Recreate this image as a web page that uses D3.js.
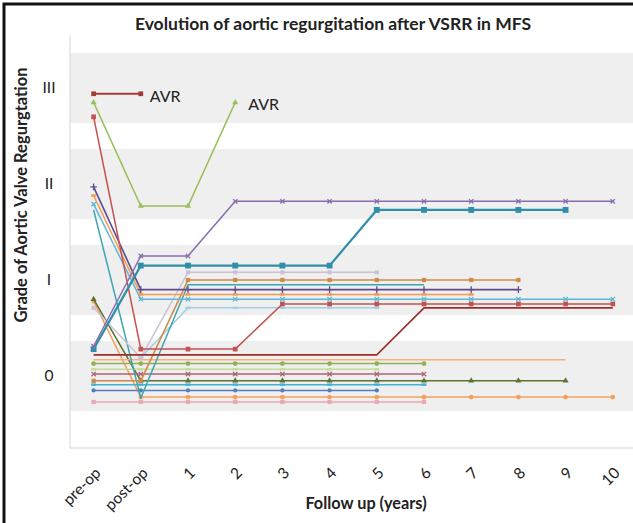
<!DOCTYPE html>
<html><head><meta charset="utf-8">
<script src="https://cdn.jsdelivr.net/npm/d3@7"></script>
<style>body{margin:0;background:#fff}svg{display:block}</style>
</head><body><svg id="c" width="633" height="523"></svg>
<script>
// ---- data ----
const categories = ["pre-op","post-op","1","2","3","4","5","6","7","8","9","10"];
const gradeValues = [0, 1, 2, 3];
const gradeLabels = ["0", "I", "II", "III"];
const titleText = "Evolution of aortic regurgitation after VSRR in MFS";
const xTitle = "Follow up (years)";
const yTitle = "Grade of Aortic Valve Regurgtation";
const avrText = "AVR";

// each patient: grade (with small offset so lines separate) per time point; null = no data
const ptAvr1   = [2.94, 2.94];
const ptAvr2   = [2.85, 1.77, 1.77, 2.85];
const ptRed    = [2.70, 0.28, 0.28, 0.28, 0.75, 0.75, 0.75, 0.75, 0.75, 0.75, 0.75, 0.75];
const ptMaroon = [0.22, 0.22, 0.22, 0.22, 0.22, 0.22, 0.22, 0.71, 0.71, 0.71, 0.71, 0.71];
const ptPurple = [0.31, 1.25, 1.25, 1.82, 1.82, 1.82, 1.82, 1.82, 1.82, 1.82, 1.82, 1.82];
const ptTeal   = [0.28, 1.15, 1.15, 1.15, 1.15, 1.15, 1.73, 1.73, 1.73, 1.73, 1.73, null];
const ptIndigo = [1.97, 0.90, 0.90, 0.90, 0.90, 0.90, 0.90, 0.90, 0.90, 0.90, null, null];
const ptOrange = [1.88, 0.85, 0.85, 0.85, 0.85, 0.85, 0.85, 0.85, 0.85, null, null, null];
const ptAqua   = [1.79, 0.80, 0.80, 0.80, 0.80, 0.80, 0.80, 0.80, 0.80, 0.80, 0.80, 0.80];
const ptLilac  = [0.71, 0.19, 1.08, 1.08, 1.08, 1.08, 1.08, null, null, null, null, null];
const ptBrown  = [-0.05, -0.05, 1.00, 1.00, 1.00, 1.00, 1.00, 1.00, 1.00, 1.00, null, null];
const ptCyan   = [1.73, -0.23, 0.95, 0.95, 0.95, 0.95, 0.95, 0.95, null, null, null, null];
const ptSky    = [null, 0.19, 0.71, 0.71, 0.71, 0.71, 0.71, null, null, null, null, null];
const ptPeach  = [0.17, 0.17, 0.17, 0.17, 0.17, 0.17, 0.17, 0.17, 0.17, 0.17, 0.17, null];
const ptGreen  = [0.13, 0.13, 0.13, 0.13, 0.13, 0.13, 0.13, 0.13, null, null, null, null];
const ptLime   = [0.07, 0.07, 0.07, 0.07, 0.07, 0.07, 0.07, null, null, null, null, null];
const ptMauve  = [0.02, 0.02, 0.02, 0.02, 0.02, 0.02, 0.02, 0.02, null, null, null, null];
const ptOlive  = [0.80, -0.05, -0.05, -0.05, -0.05, -0.05, -0.05, -0.05, -0.05, -0.05, -0.05, null];
const ptTurq   = [-0.09, -0.09, -0.09, -0.09, -0.09, -0.09, -0.09, -0.09, null, null, null, null];
const ptBlue   = [-0.15, -0.15, -0.15, -0.15, -0.15, -0.15, -0.15, null, null, null, null, null];
const ptTang   = [0.78, -0.22, -0.22, -0.22, -0.22, -0.22, -0.22, -0.22, -0.22, -0.22, -0.22, -0.22];
const ptPink   = [-0.27, -0.27, -0.27, -0.27, -0.27, -0.27, -0.27, -0.27, null, null, null, null];

const patients = [ptPink, ptTang, ptBlue, ptTurq, ptOlive, ptMauve, ptLime, ptGreen, ptPeach,
  ptSky, ptCyan, ptBrown, ptLilac, ptAqua, ptOrange, ptIndigo, ptMaroon, ptRed, ptTeal, ptPurple, ptAvr2, ptAvr1];

// ---- styles (parallel to patients) ----
const styles = [
  {c:"#e8a9b4", m:"square", s:18, w:1.5},
  {c:"#f5a15e", m:"circle", s:18, w:1.5},
  {c:"#4f7fc0", m:"circle", s:14, w:1.5},
  {c:"#3fb4d8", m:"dash", s:10, w:1.5},
  {c:"#5d7330", m:"triangle", s:16, w:1.6},
  {c:"#b0607a", m:"times", s:14, w:1.5},
  {c:"#c7dc9c", m:"dash", s:10, w:1.5},
  {c:"#8db255", m:"circle", s:18, w:1.5},
  {c:"#f6ae7a", m:"none", s:0, w:1.5},
  {c:"#9fd0e6", m:"dash", s:10, w:1.5},
  {c:"#3aa6b0", m:"none", s:0, w:1.5},
  {c:"#cf8a45", m:"square", s:18, w:1.6},
  {c:"#c9c1d8", m:"square", s:16, w:1.5},
  {c:"#5fb7d4", m:"times", s:14, w:1.5},
  {c:"#f59a52", m:"dash", s:10, w:1.5},
  {c:"#5e4a8e", m:"plus", s:16, w:1.6},
  {c:"#9c2e2c", m:"none", s:0, w:1.6},
  {c:"#c4514f", m:"square", s:22, w:1.5},
  {c:"#2f8fa8", m:"square", s:34, w:2.2},
  {c:"#8a6cb0", m:"times", s:14, w:1.5},
  {c:"#9bbf5c", m:"triangle", s:16, w:1.5},
  {c:"#a43a3a", m:"square", s:22, w:1.8}
];

// ---- layout ----
const svg = d3.select("#c");
const W = 633, H = 523;
const plotL = 70, plotB = 448;
const x = d3.scalePoint().domain(categories).range([93.6, 612.8]);
const y = d3.scaleLinear().domain([-0.75, 3.55]).range([plotB, plotB - 4.3 * 96]);
const plotT = y(3.55);
const font = "Lato, 'Open Sans', sans-serif";

svg.append("rect").attr("width", W).attr("height", H).attr("fill", "#fff");

// bands
svg.append("g").selectAll("rect").data(gradeValues).join("rect")
  .attr("x", plotL).attr("width", W - plotL)
  .attr("y", d => y(d + 0.365)).attr("height", d => y(d - 0.365) - y(d + 0.365))
  .attr("fill", "#efefef");

// axis lines
svg.append("line").attr("x1", plotL).attr("x2", plotL).attr("y1", plotT).attr("y2", plotB)
  .attr("stroke", "#d4d4d4").attr("stroke-width", 1);
svg.append("line").attr("x1", plotL).attr("x2", W).attr("y1", plotB).attr("y2", plotB)
  .attr("stroke", "#d4d4d4").attr("stroke-width", 1);

// y tick labels
svg.append("g").selectAll("text").data(gradeValues).join("text")
  .attr("x", 49).attr("y", d => y(d)).attr("dy", "0.35em")
  .attr("text-anchor", "middle").attr("font-family", font).attr("font-size", 15.5)
  .attr("fill", "#222").text((d, i) => gradeLabels[i]);

// x tick labels
svg.append("g").selectAll("text").data(categories).join("text")
  .attr("transform", d => `translate(${x(d) + 8},${474}) rotate(-45)`)
  .attr("text-anchor", "end").attr("font-family", font).attr("font-size", 15.5)
  .attr("fill", "#222").text(d => d);

// titles
svg.append("text").attr("x", 333).attr("y", 30).attr("text-anchor", "middle")
  .attr("font-family", font).attr("font-weight", "bold").attr("font-size", 17.5)
  .attr("fill", "#222").text(titleText);
svg.append("text").attr("x", 366).attr("y", 509).attr("text-anchor", "middle")
  .attr("font-family", font).attr("font-weight", "bold").attr("font-size", 16.3)
  .attr("fill", "#222").text(xTitle);
svg.append("text").attr("transform", "translate(27,195) rotate(-90)").attr("text-anchor", "middle")
  .attr("font-family", font).attr("font-weight", "bold").attr("font-size", 16.5)
  .attr("fill", "#222").text(yTitle);

// lines
const lineGen = d3.line().defined(d => d != null).x((d, i) => x(categories[i])).y(d => y(d));
const symMap = {
  square: d3.symbolSquare, circle: d3.symbolCircle, triangle: d3.symbolTriangle,
  times: d3.symbolTimes || d3.symbolX || d3.symbolCross, plus: d3.symbolPlus || d3.symbolCross
};
const gLines = svg.append("g");
patients.forEach((vals, k) => {
  const st = styles[k];
  const g = gLines.append("g");
  const pts = vals.map((v, i) => ({v, i})).filter(p => p.v != null);
  g.append("path").attr("d", lineGen(vals))
    .attr("fill", "none").attr("stroke", st.c).attr("stroke-width", st.w)
    .attr("stroke-linejoin", "round");
  if (st.m === "none") return;
  if (st.m === "dash") {
    g.selectAll("line").data(pts).join("line")
      .attr("x1", p => x(categories[p.i]) - 2.5).attr("x2", p => x(categories[p.i]) + 2.5)
      .attr("y1", p => y(p.v)).attr("y2", p => y(p.v))
      .attr("stroke", st.c).attr("stroke-width", 2.5);
    return;
  }
  const stroked = st.m === "times" || st.m === "plus";
  g.selectAll("path.m").data(pts).join("path").attr("class", "m")
    .attr("transform", p => `translate(${x(categories[p.i])},${y(p.v)})`)
    .attr("d", d3.symbol().type(symMap[st.m]).size(st.s))
    .attr("fill", stroked ? "none" : st.c)
    .attr("stroke", stroked ? st.c : "none").attr("stroke-width", 1.3);
});

// AVR labels at the last point of the two AVR patients
const avrPts = [ptAvr1, ptAvr2].map(v => ({i: v.length - 1, v: v[v.length - 1]}));
svg.append("g").selectAll("text").data(avrPts).join("text")
  .attr("x", (p, k) => x(categories[p.i]) + (k === 0 ? 9 : 13))
  .attr("y", (p, k) => y(p.v) + (k === 0 ? 8.5 : 8))
  .attr("font-family", font).attr("font-size", 16).attr("fill", "#222")
  .text(avrText);

// frame (cropped figure border)
svg.append("path").attr("d", `M4,${H} V4 H${W}`).attr("fill", "none")
  .attr("stroke", "#111").attr("stroke-width", 3);
</script></body></html>
